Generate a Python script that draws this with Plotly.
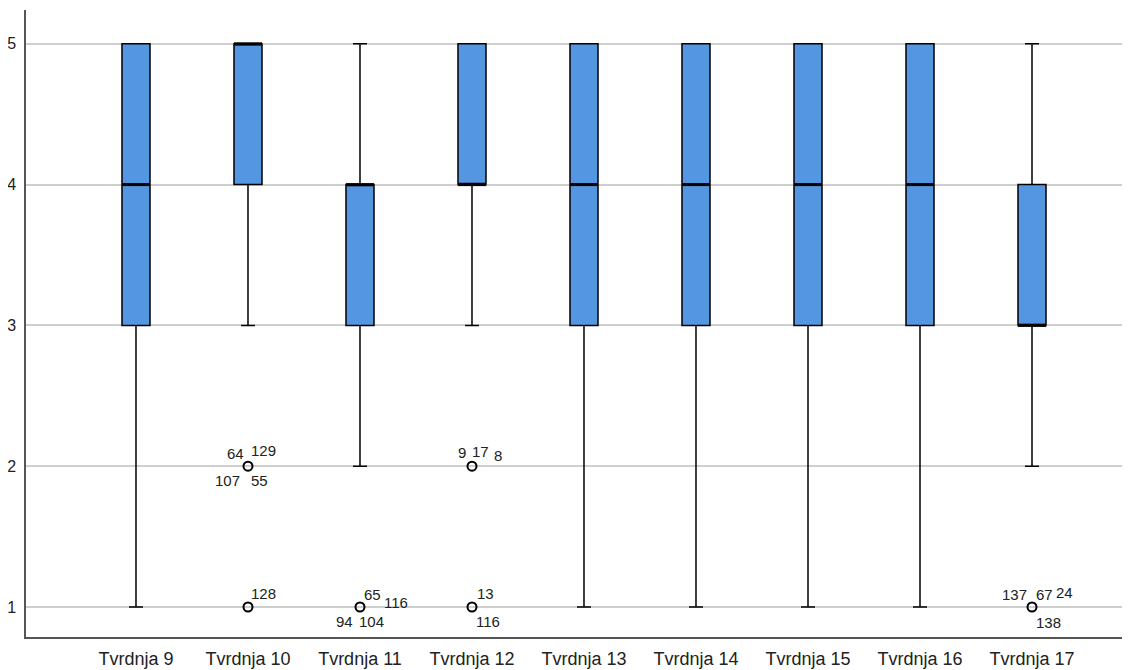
import plotly.graph_objects as go

categories = ["Tvrdnja 9", "Tvrdnja 10", "Tvrdnja 11", "Tvrdnja 12", "Tvrdnja 13",
              "Tvrdnja 14", "Tvrdnja 15", "Tvrdnja 16", "Tvrdnja 17"]
q1 = [3, 4, 3, 4, 3, 3, 3, 3, 3]
median = [4, 5, 4, 4, 4, 4, 4, 4, 3]
q3 = [5, 5, 4, 5, 5, 5, 5, 5, 4]
lower_whisker = [1, 3, 2, 3, 1, 1, 1, 1, 2]
upper_whisker = [5, 5, 5, 5, 5, 5, 5, 5, 5]

# outliers: (category index, value, case labels)
outlier_cat = [1, 1, 2, 3, 3, 8]
outlier_val = [2, 1, 1, 2, 1, 1]
outlier_labels = [["64", "129", "107", "55"], ["128"], ["65", "116", "94", "104"],
                  ["9", "17", "8"], ["13", "116"], ["137", "67", "24", "138"]]
# label pixel offsets (style only)
label_offsets = [[(-12, 13), (16, 16), (-20, -14), (12, -14)],
                 [(16, 14)],
                 [(13, 13), (36, 5), (-15, -14), (12, -14)],
                 [(-10, 14), (9, 15), (26, 11)],
                 [(14, 14), (16, -14)],
                 [(-18, 13), (12, 13), (32, 15), (16, -15)]]

BOX_W = 0.25
xs = list(range(len(categories)))
fig = go.Figure()
fig.add_trace(go.Box(
    x=xs, q1=q1, median=median, q3=q3,
    lowerfence=lower_whisker, upperfence=upper_whisker,
    fillcolor="#5596E3", line=dict(color="black", width=1.5),
    width=BOX_W, whiskerwidth=0.5, boxpoints=False, showlegend=False,
    hoverinfo="skip"))

# thicker median lines (SPSS style)
for i, m in zip(xs, median):
    fig.add_shape(type="line", x0=i - BOX_W / 2, x1=i + BOX_W / 2, y0=m, y1=m,
                  line=dict(color="black", width=3), layer="above")

fig.add_trace(go.Scatter(
    x=outlier_cat, y=outlier_val, mode="markers",
    marker=dict(symbol="circle-open", size=9, color="black", line=dict(width=2)),
    showlegend=False, hoverinfo="skip"))

for c, v, labs, offs in zip(outlier_cat, outlier_val, outlier_labels, label_offsets):
    for lab, (dx, dy) in zip(labs, offs):
        fig.add_annotation(x=c, y=v, text=lab, showarrow=False, xshift=dx, yshift=dy,
                           font=dict(family="Liberation Sans, Arial", size=15, color="#222"))

# page body has an 8px default margin, so the figure is 8px smaller
fig.update_layout(
    width=1122, height=662,
    margin=dict(l=18, r=0, t=2, b=33, autoexpand=False),
    plot_bgcolor="white", paper_bgcolor="white",
    font=dict(family="Liberation Sans, Arial", color="#222"),
)
fig.update_xaxes(
    range=[-0.982, 8.875], tickvals=xs, ticktext=categories, automargin=False,
    showgrid=False, zeroline=False, showline=True, linecolor="#555", linewidth=1.5,
    ticks="", tickfont=dict(size=18), ticklabelstandoff=5)
fig.update_yaxes(
    range=[0.787, 5.24], tickvals=[1, 2, 3, 4, 5], automargin=False,
    showgrid=True, gridcolor="#CFCFCF", gridwidth=1.5, zeroline=False,
    showline=True, linecolor="#555", linewidth=1.5, ticks="",
    tickfont=dict(size=16), ticklabelstandoff=5)

fig.write_html("out.html")
